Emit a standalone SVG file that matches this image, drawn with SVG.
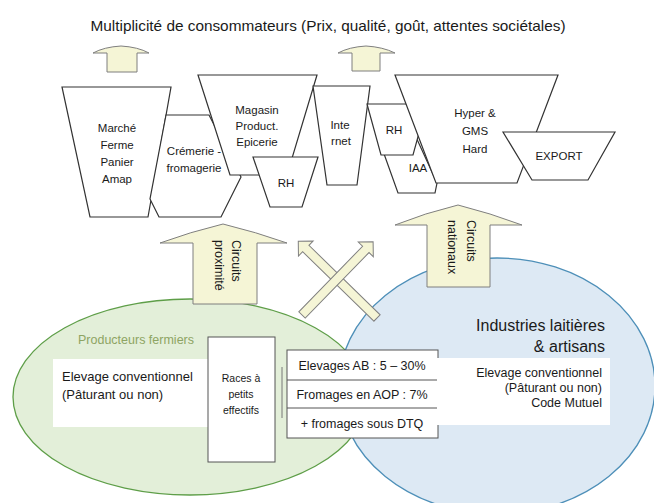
<svg xmlns="http://www.w3.org/2000/svg" width="654" height="503" viewBox="0 0 654 503">
<style>
.t{font-family:"Liberation Sans",Arial,sans-serif;fill:#1a1a1a}
.sh{fill:#fff;stroke:#333;stroke-width:1.2;stroke-linejoin:miter}
.st{font-size:11.5px;text-anchor:middle}
.arr{fill:#f5f5d6;stroke:#7f7f7f;stroke-width:1}
.box{fill:#fff;stroke:#555;stroke-width:1}
.bt{font-size:12.5px;text-anchor:middle}
</style>
<rect width="654" height="503" fill="#fff"/>
<text class="t" x="328" y="31" font-size="14.5" text-anchor="middle" textLength="475" lengthAdjust="spacingAndGlyphs">Multiplicité de consommateurs (Prix, qualité, goût, attentes sociétales)</text>

<g id="producteurs">
<ellipse cx="190" cy="397" rx="177" ry="98" fill="#e3efd9" stroke="#5e9e48" stroke-width="1.3"/>
</g>
<g id="industries">
<ellipse cx="497" cy="386" rx="158" ry="128" fill="#dde9f4" stroke="#4d8fb8" stroke-width="1.3"/>
<text class="t" x="605" y="331" font-size="16" text-anchor="end" fill="#333">Industries laitières</text>
<text class="t" x="605" y="352" font-size="16" text-anchor="end" fill="#333">&amp; artisans</text>
</g>
<text class="t" x="78" y="344" font-size="12.5" style="fill:#8ea463">Producteurs fermiers</text>

<g id="elevage-gauche">
<rect x="53" y="359" width="156" height="68" fill="#fff"/>
<text class="t" x="62" y="381" font-size="13">Elevage conventionnel</text>
<text class="t" x="62" y="399" font-size="13">(Pâturant ou non)</text>
</g>
<g id="races">
<rect x="208" y="337" width="67" height="125" class="box"/>
<text class="t" x="241" y="382" font-size="10.5" text-anchor="middle">Races à</text>
<text class="t" x="241" y="398" font-size="10.5" text-anchor="middle">petits</text>
<text class="t" x="241" y="414" font-size="10.5" text-anchor="middle">effectifs</text>
</g>
<line x1="282" y1="367" x2="282" y2="418" stroke="#777" stroke-width="1"/>
<g id="labels">
<rect x="287" y="350" width="151" height="88" class="box"/>
<line x1="287" y1="380" x2="438" y2="380" stroke="#555"/>
<line x1="287" y1="408" x2="438" y2="408" stroke="#555"/>
<text class="t bt" x="362" y="370">Elevages AB : 5 – 30%</text>
<text class="t bt" x="362" y="399">Fromages en AOP : 7%</text>
<text class="t bt" x="362" y="428">+ fromages sous DTQ</text>
</g>
<g id="elevage-droite">
<rect x="437" y="358" width="173" height="67" fill="#fff"/>
<text class="t" x="602" y="377" font-size="12.5" text-anchor="end">Elevage conventionnel</text>
<text class="t" x="602" y="392" font-size="12.5" text-anchor="end">(Pâturant ou non)</text>
<text class="t" x="602" y="407" font-size="12.5" text-anchor="end">Code Mutuel</text>
</g>

<g id="marche">
<polygon class="sh" points="62,87 171,87 148,217 90,217"/>
<text class="t st" x="117" y="132">Marché</text>
<text class="t st" x="117" y="149">Ferme</text>
<text class="t st" x="117" y="166">Panier</text>
<text class="t st" x="117" y="183">Amap</text>
</g>
<g id="cremerie">
<polygon class="sh" points="166,115 209,115 241,177 221,217 159,217 150,199"/>
<text class="t st" x="194" y="155">Crémerie -</text>
<text class="t st" x="194" y="172">fromagerie</text>
</g>
<g id="magasin">
<polygon class="sh" points="198,75 317,75 287,175 230,175"/>
<text class="t st" x="257" y="114">Magasin</text>
<text class="t st" x="257" y="130">Product.</text>
<text class="t st" x="257" y="146">Epicerie</text>
</g>
<g id="rh1">
<polygon class="sh" points="253,157 318,157 302,207 270,207"/>
<text class="t st" x="286" y="187">RH</text>
</g>
<g id="internet">
<polygon class="sh" points="313,86 370,86 357,185 327,185"/>
<text class="t st" x="340" y="129">Inte</text>
<text class="t st" x="341" y="145">rnet</text>
</g>
<g id="iaa">
<polygon class="sh" points="378,137 416,137 437,183 435,193 398,193"/>
<text class="t st" x="418" y="172">IAA</text>
</g>
<g id="rh2">
<polygon class="sh" points="367,104 427,104 413,155 381,155"/>
<text class="t st" x="394" y="134">RH</text>
</g>
<g id="hyper">
<polygon class="sh" points="395,75 558,75 517,183 436,183"/>
<text class="t st" x="475" y="117" font-size="13">Hyper &amp;</text>
<text class="t st" x="475" y="135" font-size="13">GMS</text>
<text class="t st" x="475" y="153" font-size="13">Hard</text>
</g>
<g id="export">
<polygon class="sh" points="503,132 615,132 588,180 532,180"/>
<text class="t st" x="559" y="160" font-size="12">EXPORT</text>
</g>

<g id="connectors">
<path class="arr" d="M107,72 L107,53 L93,53 Q104,47 121,46 Q138,47 149,53 L137,53 L137,72 Z"/>
<path class="arr" d="M352,71 L352,53 L338,53 Q349,47 366,46 Q383,47 395,53 L380,53 L380,71 Z"/>
<path class="arr" d="M193,304 L193,243 L160,243 Q190,232 223,224 Q256,232 287,243 L257,243 L257,304 Z"/>
<path class="arr" d="M427,287 L427,225 L395,225 Q425,213 458,205 Q490,213 522,225 L490,225 L490,287 Z"/>
<polygon class="arr" transform="translate(377,318) rotate(-135.7)" points="0,-4.5 99.5,-4.5 99.5,-10.5 110,0 99.5,10.5 99.5,4.5 0,4.5"/>
<polygon class="arr" transform="translate(302,315) rotate(-45.8)" points="0,-4.5 91.5,-4.5 91.5,-10.5 102,0 91.5,10.5 91.5,4.5 0,4.5"/>
</g>
<g id="arrow-labels" class="t" font-size="12.5">
<text transform="translate(232,240) rotate(90)">Circuits</text>
<text transform="translate(215,240) rotate(90)">proximité</text>
<text transform="translate(467,220) rotate(90)">Circuits</text>
<text transform="translate(448,220) rotate(90)">nationaux</text>
</g>
</svg>
